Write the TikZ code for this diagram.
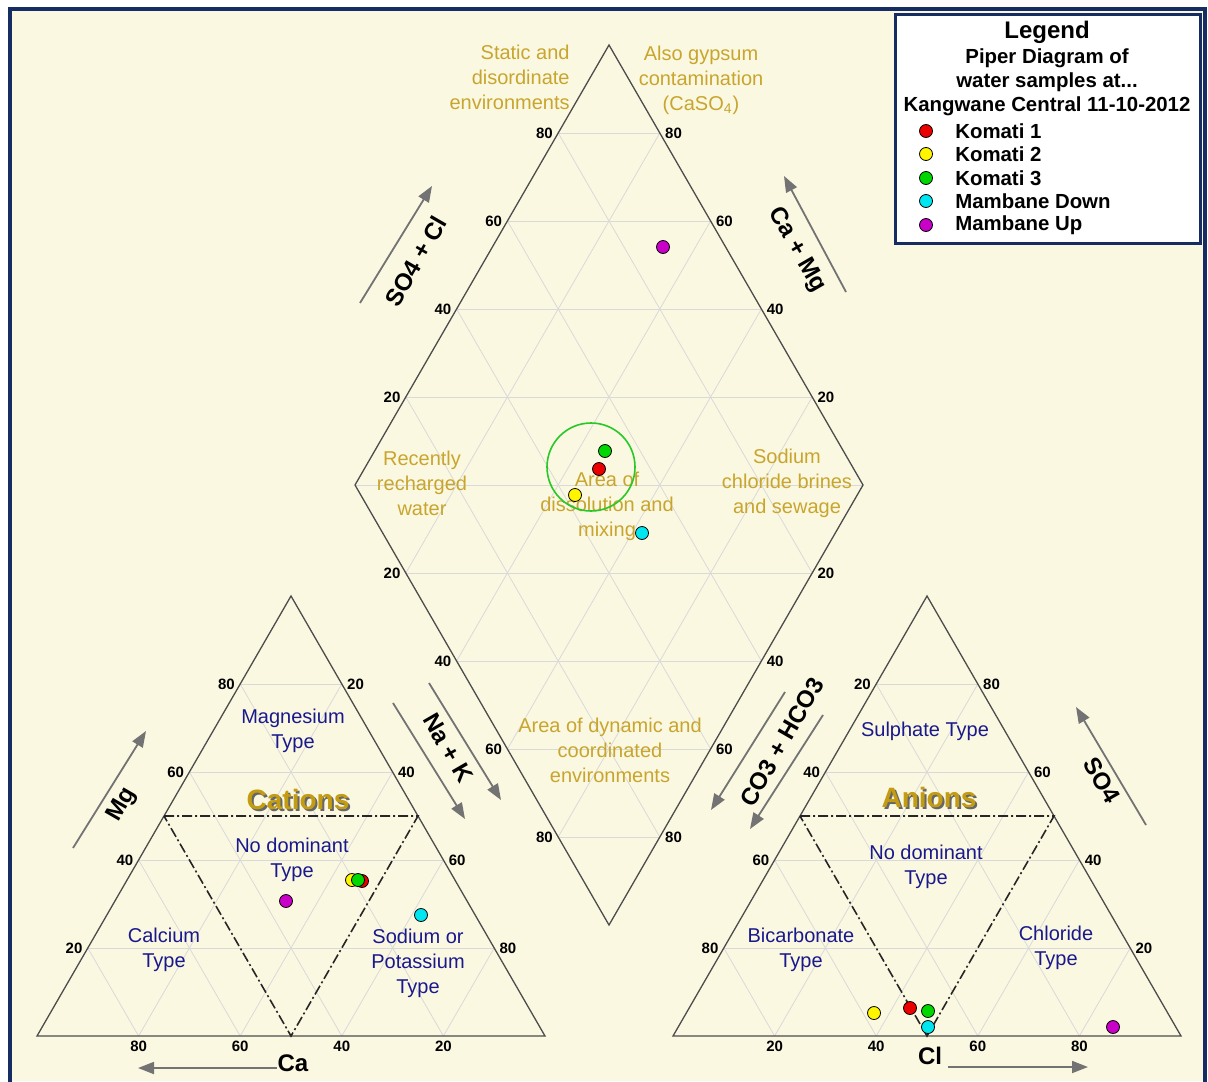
\documentclass[tikz,border=0pt]{standalone}
\usepackage{fontspec}
\setmainfont{Liberation Sans}
\usetikzlibrary{calc, positioning, arrows.meta}
\definecolor{cream}{RGB}{251,248,226}
\definecolor{framenavy}{RGB}{22,45,100}
\definecolor{gold}{RGB}{200,165,45}
\definecolor{goldtitle}{RGB}{196,156,18}
\definecolor{typenavy}{RGB}{25,25,140}
\definecolor{k1red}{RGB}{235,0,0}
\definecolor{k2yellow}{RGB}{255,245,0}
\definecolor{k3green}{RGB}{0,215,0}
\definecolor{mdcyan}{RGB}{0,230,240}
\definecolor{mumagenta}{RGB}{200,0,200}
\definecolor{ringgreen}{RGB}{40,200,40}

\begin{document}
\begin{tikzpicture}[
    x=0.5pt, y=-0.5pt,
    edge/.style={draw=black!70, line width=0.65pt},
    grid/.style={draw=black!15, line width=0.4pt},
    typeline/.style={draw=black!85, line width=0.8pt, dash pattern=on 5pt off 1.5pt on 1pt off 1.5pt},
    tick/.style={font=\bfseries\fontsize{7.5}{9}\selectfont, inner sep=2.5pt},
    region/.style={text=gold, align=center, font=\fontsize{10}{12.5}\selectfont, inner sep=0pt},
    typelabel/.style={text=typenavy, align=center, font=\fontsize{10}{12.5}\selectfont, inner sep=0pt},
    axislabel/.style={font=\bfseries\fontsize{12}{14}\selectfont, inner sep=0pt},
    axisarrow/.style={-{Triangle[length=8pt,width=6pt]}, draw=black!55, line width=0.9pt},
    groupname/.style={font=\bfseries\fontsize{14}{16}\selectfont, text=goldtitle, inner sep=0pt},
    sample/.style={circle, draw=black, line width=0.4pt, minimum size=6.5pt, inner sep=0pt},
    legtext/.style={font=\bfseries\fontsize{10.2}{12}\selectfont, inner sep=0pt}
]
\useasboundingbox (0,0) rectangle (1208,1081);

% background and frame
\fill[white] (0,0) rectangle (1208,1081);
\fill[cream] (10,9) rectangle (1205,1081);
\draw[framenavy, line width=2pt] (10,1095) -- (10,9) -- (1205,9) -- (1205,1095);

% corners of the three plots
\coordinate (cL) at (37,1036);
\coordinate (cR) at (545,1036);
\coordinate (cT) at (291,596);
\coordinate (aL) at (673,1036);
\coordinate (aR) at (1181,1036);
\coordinate (aT) at (927,596);
\coordinate (dL) at (355,485);
\coordinate (dR) at (863,485);
\coordinate (dT) at (609,45);
\coordinate (dB) at (609,925);

% grids
\foreach \a/\b/\c in {cL/cR/cT, aL/aR/aT, dL/dR/dT, dL/dR/dB}
  \foreach \t in {0.2,0.4,0.6,0.8} {
    \draw[grid] ($(\a)!\t!(\c)$) -- ($(\b)!\t!(\c)$);
    \draw[grid] ($(\a)!\t!(\b)$) -- ($(\a)!\t!(\c)$);
    \draw[grid] ($(\b)!\t!(\a)$) -- ($(\b)!\t!(\c)$);
  }
\draw[grid] (dL) -- (dR);

\draw[edge] (cL) -- (cR) -- (cT) -- cycle;
\draw[edge] (aL) -- (aR) -- (aT) -- cycle;
\draw[edge] (dL) -- (dT) -- (dR) -- (dB) -- cycle;

% no dominant type zones
\draw[typeline] ($(cL)!0.5!(cT)$) -- ($(cR)!0.5!(cT)$) -- ($(cL)!0.5!(cR)$) -- cycle;
\draw[typeline] ($(aL)!0.5!(aT)$) -- ($(aR)!0.5!(aT)$) -- ($(aL)!0.5!(aR)$) -- cycle;

% tick values
\foreach \s/\e/\an in {cL/cT/east, cT/cR/west, cR/cL/north, aT/aL/east, aR/aT/west, aL/aR/north, dL/dT/east, dR/dT/west, dL/dB/east, dR/dB/west}
  \foreach \v in {20,40,60,80}
    \node[tick, anchor=\an] at ($(\s)!\v/100!(\e)$) {\v};

% axis names
\node[axislabel, rotate=60] (mg) at (122,805) {Mg};
\draw[axisarrow] (73,848) -- (146,731);
\node[axislabel] (ca) at (293,1063) {Ca};
\draw[axisarrow] (277,1068) -- (138,1068);
\node[axislabel, rotate=-60] (nak) at (448,748) {Na + K};
\draw[axisarrow] (393,703) -- (465,819);
\draw[axisarrow] (429,683) -- (501,800);
\node[axislabel, rotate=60] (so4cl) at (416,261) {SO4 + Cl};
\draw[axisarrow] (360,303) -- (432,186);
\node[axislabel, rotate=-60] (camg) at (797,250) {Ca + Mg};
\draw[axisarrow] (846,292) -- (784,176);
\node[axislabel, rotate=60] (co3) at (782,742) {CO3 + HCO3};
\draw[axisarrow] (785,692) -- (711,810);
\draw[axisarrow] (823,715) -- (750,829);
\node[axislabel, rotate=-60] (so4) at (1102,780) {SO4};
\draw[axisarrow] (1146,825) -- (1076,707);
\node[axislabel] (cl) at (930,1056) {Cl};
\draw[axisarrow] (948,1067) -- (1088,1067);

% water type areas
\node[region, align=right, anchor=east] (static) at (570,77) {Static and\\disordinate\\environments};
\node[region] (gypsum) at (701,80) {Also gypsum\\contamination\\(CaSO\textsubscript{4})};
\node[region] (recharged) at (422,483) {Recently\\recharged\\water};
\node[region] (mixing) at (607,506) {Area of\\dissolution and\\mixing};
\node[region] (brines) at (787,483) {Sodium\\chloride brines\\and sewage};
\node[region] (dynamic) at (610,750) {Area of dynamic and\\coordinated\\environments};

\node[typelabel] (cmg) at (293,731) {Magnesium\\Type};
\node[typelabel] (cnone) at (292,860) {No dominant\\Type};
\node[typelabel] (cca) at (164,950) {Calcium\\Type};
\node[typelabel] (cna) at (418,963) {Sodium or\\Potassium\\Type};
\node[typelabel] (aso4) at (925,731) {Sulphate Type};
\node[typelabel] (anone) at (926,867) {No dominant\\Type};
\node[typelabel] (ahco3) at (801,950) {Bicarbonate\\Type};
\node[typelabel] (acl) at (1056,948) {Chloride\\Type};

\node[groupname, text=black!60] at (300,801) {Cations};
\node[groupname] (cations) at (298,799) {Cations};
\node[groupname, text=black!60] at (931,799) {Anions};
\node[groupname] (anions) at (929,797) {Anions};

% samples
\draw[ringgreen, line width=0.8pt] (591,467) circle (44);
\node[sample, fill=mumagenta] (dMU) at (663,247) {};
\node[sample, fill=k3green] (dK3) at (605,451) {};
\node[sample, fill=k1red] (dK1) at (599,469) {};
\node[sample, fill=k2yellow] (dK2) at (575,495) {};
\node[sample, fill=mdcyan] (dMD) at (642,533) {};

\node[sample, fill=mumagenta] (cMU) at (286,901) {};
\node[sample, fill=k1red] (cK1) at (362,881) {};
\node[sample, fill=k2yellow] (cK2) at (352,880) {};
\node[sample, fill=k3green] (cK3) at (358,880) {};
\node[sample, fill=mdcyan] (cMD) at (421,915) {};

\node[sample, fill=k2yellow] (aK2) at (874,1013) {};
\node[sample, fill=k1red] (aK1) at (910,1008) {};
\node[sample, fill=k3green] (aK3) at (928,1011) {};
\node[sample, fill=mdcyan] (aMD) at (928,1027) {};
\node[sample, fill=mumagenta] (aMU) at (1113,1027) {};

% legend
\draw[framenavy, line width=1.5pt, fill=white] (895,15) rectangle (1200,243);
\node[font=\bfseries\fontsize{12}{14}\selectfont] (legtitle) at (1047,32) {Legend};
\node[legtext, align=center] (legsub) at (1047,70) {Piper Diagram of\\water samples at...};
\node[legtext] (legsite) at (1047,106) {Kangwane Central 11-10-2012};
\node[sample, fill=k1red] (leg1) at (926,131) {};
\node[sample, fill=k2yellow] (leg2) at (926,154) {};
\node[sample, fill=k3green] (leg3) at (926,178) {};
\node[sample, fill=mdcyan] (leg4) at (926,201) {};
\node[sample, fill=mumagenta] (leg5) at (926,225) {};
\node[legtext, right=11pt of leg1] {Komati 1};
\node[legtext, right=11pt of leg2] {Komati 2};
\node[legtext, right=11pt of leg3] {Komati 3};
\node[legtext, right=11pt of leg4] {Mambane Down};
\node[legtext, right=11pt of leg5] {Mambane Up};
\end{tikzpicture}
\end{document}
